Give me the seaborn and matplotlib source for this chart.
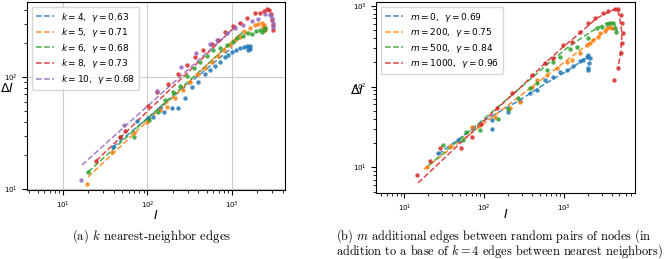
import numpy as np
import pandas as pd
import matplotlib
matplotlib.use("Agg")
import matplotlib.pyplot as plt
import seaborn as sns

# ------------------ data ------------------
# (a) k nearest-neighbour edges: scatter (I, dI) and dashed power-law fit (end points)
k_labels = [r"$k = 4$,  $\gamma = 0.63$", r"$k = 5$,  $\gamma = 0.71$", r"$k = 6$,  $\gamma = 0.68$",
            r"$k = 8$,  $\gamma = 0.73$", r"$k = 10$,  $\gamma = 0.68$"]

k4_I = [39, 75, 101, 116, 141, 157, 195, 230, 278, 336, 396, 479, 549, 629, 721, 826, 897, 1000, 1115, 1244, 1387, 1506, 1589, 1633, 1550, 1633]
k4_dI = [23.7, 40.5, 43, 44, 53, 49, 53, 53, 65, 81, 90, 106, 115, 125, 136, 151, 157, 167, 174, 181, 185, 189, 185, 178, 174, 189]
k5_I = [19.2, 38, 69, 99, 141, 170, 211, 263, 318, 396, 479, 580, 683, 804, 946, 1086, 1244, 1425, 1633, 1871, 2032, 2265, 2394, 2459, 2459, 2350]
k5_dI = [11.1, 21.4, 31.6, 39.6, 50.7, 54, 65, 76.5, 90, 106, 120, 136, 154, 174, 193, 214, 228, 252, 274, 291, 297, 303, 291, 274, 263, 280]
k6_I = [19.8, 47, 69, 104, 133, 161, 200, 242, 293, 355, 418, 506, 596, 721, 873, 1028, 1146, 1349, 1546, 1725, 1923, 2143, 2265, 2394, 2459]
k6_dI = [14.2, 29, 29, 41, 49, 62, 73, 83, 102, 120, 136, 154, 174, 180, 193, 205, 223, 232, 247, 242, 258, 263, 252, 263, 274]
k8_I = [24.6, 47, 54, 101, 129, 175, 230, 293, 365, 454, 580, 683, 826, 1028, 1244, 1506, 1871, 2143, 2394, 2597, 2743, 2897, 2975, 3057, 3057]
k8_dI = [17.8, 29, 33, 55, 73.5, 87, 106, 128, 151, 174, 197, 214, 252, 285, 303, 336, 373, 373, 388, 405, 397, 365, 323, 291, 263]
k10_I = [16.3, 52.7, 129, 249, 375, 549, 664, 873, 1086, 1349, 1725, 2032, 2459, 2818, 2975, 3057, 3057]
k10_dI = [12, 37.3, 75, 123, 164, 197, 214, 247, 274, 291, 316, 330, 365, 358, 336, 303, 279]

k4_fit_I, k4_fit_dI = [39, 1000], [23.7, 183]
k5_fit_I, k5_fit_dI = [19.8, 1400], [12.8, 264]
k6_fit_I, k6_fit_dI = [19.8, 1400], [14.2, 258]
k8_fit_I, k8_fit_dI = [24.6, 1100], [17.8, 284]
k10_fit_I, k10_fit_dI = [16.8, 1250], [16.4, 306]

# (b) m extra random edges: scatter (I, dI) and dashed model curves
m_labels = [r"$m = 0$,  $\gamma = 0.69$", r"$m = 200$,  $\gamma = 0.75$",
            r"$m = 500$,  $\gamma = 0.84$", r"$m = 1000$,  $\gamma = 0.96$"]

m0_I = [26.4, 47, 72.6, 124, 126, 200, 282, 377, 462, 582, 734, 898, 1100, 1308, 1602, 1749, 1963, 2019, 2140, 2080, 2019, 2019]
m0_dI = [15.0, 21.8, 30.6, 30, 38.5, 48.3, 66.2, 83.2, 90.6, 120, 131, 151, 160, 179, 207, 213, 232, 245, 225, 195, 169, 160]
m200_I = [19.2, 37.3, 70.5, 88.8, 137, 212, 282, 400, 462, 617, 824, 1100, 1270, 1602, 1963, 2140, 2335, 2694, 2855, 3298, 3495, 3811, 4045]
m200_dI = [10.1, 18.4, 31.5, 33.4, 42, 54.2, 64.3, 98.6, 120, 139, 169, 201, 213, 260, 326, 345, 376, 410, 459, 486, 530, 545, 530]
m500_I = [30.5, 54.3, 59.2, 88.8, 150, 200, 267, 377, 462, 617, 734, 898, 1199, 1469, 2019, 2620, 3026, 3495, 3811, 4160, 4406, 4539]
m500_dI = [18.9, 21.8, 27.4, 29.1, 40, 52, 72, 95, 112, 160, 201, 232, 291, 308, 398, 530, 545, 594, 611, 611, 530, 473]
m1000_I = [14.4, 20.9, 27.9, 51.3, 70.5, 91, 145, 224, 400, 582, 734, 980, 1270, 1602, 2019, 2474, 3113, 3597, 4406, 4810, 5248, 5400, 5559, 5400, 5248, 4810, 4285]
m1000_dI = [8.0, 12.0, 17.3, 17.3, 23.7, 34.4, 54.2, 83.2, 139, 195, 225, 326, 356, 473, 611, 705, 813, 860, 910, 910, 767, 611, 459, 345, 260, 169, 120]

m0_fit_I = [26.4, 100, 282, 600, 1100, 1600, 2019]
m0_fit_dI = [14.5, 38, 68, 110, 155, 200, 240]
m200_fit_I = [17.6, 400, 1100, 2140, 3900]
m200_fit_dI = [9.5, 99, 211, 348, 545]
m500_fit_I = [20, 60, 150, 411, 673, 1100, 1749, 2620, 3495, 4045, 4406, 4674]
m500_fit_dI = [10.5, 26, 56, 131, 201, 299, 410, 530, 611, 628, 577, 473]
m1000_fit_I = [14.8, 66.5, 158, 282, 550, 980, 1602, 2620, 3495, 4406, 4810, 5097, 5400, 5248, 4810]
m1000_fit_dI = [6.4, 25.8, 57.4, 95.8, 184, 308, 459, 705, 813, 910, 885, 665, 459, 283, 169]

# ------------------ style ------------------
colors = sns.color_palette("tab10")
k_colors = [colors[0], colors[1], colors[2], colors[3], colors[4]]
m_colors = [colors[0], colors[1], colors[2], colors[3]]

k_series = [(k4_I, k4_dI, k4_fit_I, k4_fit_dI), (k5_I, k5_dI, k5_fit_I, k5_fit_dI),
            (k6_I, k6_dI, k6_fit_I, k6_fit_dI), (k8_I, k8_dI, k8_fit_I, k8_fit_dI),
            (k10_I, k10_dI, k10_fit_I, k10_fit_dI)]
m_series = [(m0_I, m0_dI, m0_fit_I, m0_fit_dI), (m200_I, m200_dI, m200_fit_I, m200_fit_dI),
            (m500_I, m500_dI, m500_fit_I, m500_fit_dI), (m1000_I, m1000_dI, m1000_fit_I, m1000_fit_dI)]

fig = plt.figure(figsize=(6.68, 2.59), dpi=100)
ax1 = fig.add_axes([0.0404, 0.2664, 0.3862, 0.7259])
ax2 = fig.add_axes([0.5629, 0.2548, 0.3877, 0.7375])


def draw(ax, series, labels, cols):
    for (I, dI, fI, fdI), lab, c in zip(series, labels, cols):
        sns.scatterplot(x=I, y=dI, color=c, s=10, linewidth=0, alpha=0.85, ax=ax, zorder=3)
        sns.lineplot(x=fI, y=fdI, color=c, linestyle="--", lw=1.1, alpha=0.85,
                     sort=False, estimator=None, ax=ax, label=lab, zorder=2)
    ax.set_xscale("log")
    ax.set_yscale("log")
    ax.tick_params(labelsize=5)
    ax.legend(loc="upper left", fontsize=6.5, handlelength=2.0, labelspacing=0.28,
              borderpad=0.45)


draw(ax1, k_series, k_labels, k_colors)
draw(ax2, m_series, m_labels, m_colors)

ax1.set_xlim(3.75, 4236)
ax1.set_ylim(9.8, 468)
ax1.grid(True, which="major", color="#cccccc", lw=0.8)
ax1.set_axisbelow(True)

ax2.set_xlim(4.39, 7870)
ax2.set_ylim(4.81, 1111)

for ax, lx, ly, xy in [(ax1, -0.077, 0.54, -0.133), (ax2, -0.073, 0.539, -0.115)]:
    ax.set_xlabel(r"$I$", fontsize=9, va="center")
    ax.set_ylabel(r"$\Delta I$", fontsize=9, rotation=0, ha="center", va="center")
    ax.xaxis.set_label_coords(0.5, xy)
    ax.yaxis.set_label_coords(lx, ly)

# captions
cap = dict(family="cmr10", math_fontfamily="cm", va="center")
fig.text(0.2275, 0.089, r"(a) $k$ nearest-neighbor edges", ha="center", fontsize=9.2, **cap)
fig.text(0.503, 0.087, r"(b) $m$ additional edges between random pairs of nodes (in",
         ha="left", fontsize=8.9, **cap)
fig.text(0.503, 0.030, r"addition to a base of $k=4$ edges between nearest neighbors)",
         ha="left", fontsize=8.9, **cap)

fig.savefig("out.png", dpi=100)
